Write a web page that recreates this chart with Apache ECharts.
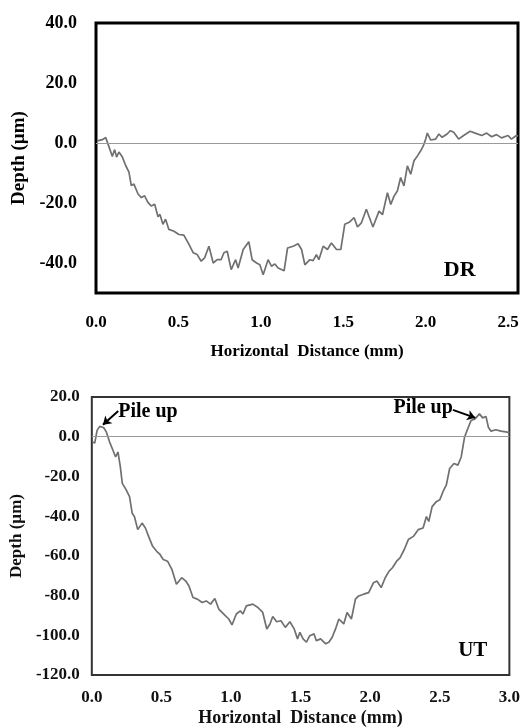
<!DOCTYPE html>
<html>
<head>
<meta charset="utf-8">
<script src="https://cdn.jsdelivr.net/npm/echarts@6/dist/echarts.min.js"></script>
<style>
html,body{margin:0;padding:0;background:#fff;}
#c{width:523px;height:728px;}
</style>
</head>
<body>
<div id="c"></div>
<script>
// ---- DR profile (top) ----
var drX = [0.008,0.038,0.059,0.079,0.099,0.113,0.125,0.139,0.16,0.18,0.20,0.214,0.23,0.255,0.275,0.295,0.315,0.335,0.356,0.376,0.388,0.406,0.422,0.442,0.473,0.503,0.533,0.564,0.59,0.614,0.638,0.659,0.685,0.711,0.735,0.759,0.776,0.796,0.82,0.847,0.862,0.893,0.927,0.947,0.974,0.994,1.014,1.044,1.065,1.085,1.105,1.141,1.162,1.196,1.226,1.247,1.267,1.297,1.317,1.337,1.352,1.378,1.404,1.428,1.459,1.485,1.509,1.539,1.566,1.586,1.61,1.64,1.68,1.717,1.738,1.768,1.788,1.808,1.828,1.848,1.868,1.889,1.909,1.929,1.95,1.97,1.986,2.0,2.01,2.03,2.06,2.08,2.10,2.13,2.15,2.17,2.20,2.23,2.27,2.30,2.34,2.37,2.40,2.43,2.46,2.50,2.52,2.55,2.56];
var drY = [0.7,1.1,1.8,-1.3,-4.5,-2.2,-4.7,-3,-4.7,-7.5,-9.7,-14.2,-13.7,-17,-18.2,-17.6,-19.8,-21,-20.4,-24.6,-23.8,-27.1,-25.4,-28.8,-29.4,-30.5,-30.7,-33.8,-36.6,-37.2,-39.4,-38.3,-34.4,-40,-38.9,-38.9,-36.6,-36.1,-42.2,-38.9,-41.7,-35.5,-32.9,-38.9,-40,-40.6,-43.9,-38.9,-41.1,-40.3,-41.7,-42.6,-35,-34.4,-33.6,-35.5,-40.6,-38.9,-39.2,-37.2,-38.9,-34.4,-35.5,-33.3,-35.5,-35.5,-27.1,-26.3,-24.9,-28,-26.6,-22.1,-28,-22.7,-23.9,-16.6,-20.5,-17.7,-16,-11.5,-14.3,-7.6,-10.4,-5.9,-4.3,-2.6,-0.9,1.3,3.3,1,1.3,3,1.9,3,4.1,3.6,1.3,2.5,3.9,3.3,2.5,3.3,2.1,2.8,1.7,2.5,1.3,2.5,2.3];
// ---- UT profile (bottom) ----
var utX = [0.005,0.021,0.038,0.057,0.086,0.105,0.128,0.152,0.171,0.188,0.205,0.219,0.247,0.271,0.29,0.306,0.33,0.361,0.385,0.408,0.437,0.466,0.49,0.513,0.544,0.575,0.608,0.646,0.675,0.698,0.727,0.758,0.793,0.822,0.853,0.884,0.912,0.948,0.984,1.007,1.038,1.067,1.086,1.11,1.157,1.193,1.228,1.257,1.28,1.30,1.328,1.359,1.39,1.423,1.454,1.478,1.495,1.518,1.542,1.566,1.597,1.613,1.644,1.68,1.703,1.727,1.751,1.775,1.81,1.834,1.865,1.894,1.917,1.953,1.989,2.024,2.048,2.079,2.108,2.136,2.16,2.19,2.214,2.245,2.274,2.31,2.345,2.38,2.404,2.421,2.445,2.475,2.50,2.523,2.547,2.571,2.602,2.63,2.654,2.678,2.701,2.725,2.753,2.785,2.808,2.832,2.849,2.868,2.903,2.939,2.986,3.0];
var utY = [-2.7,-3.2,3.2,5.2,4.5,2.3,-2.7,-6.8,-10.2,-7.7,-15.2,-23.5,-26.8,-30.2,-38.5,-40.2,-46.8,-43.5,-46,-50.2,-55.2,-57.7,-59.3,-61.8,-62.7,-66.8,-74.3,-71,-72.7,-75.2,-81,-81.8,-83.5,-82.7,-84.3,-81.5,-86.8,-89.3,-91.8,-94.8,-89.3,-87.7,-89.3,-85.2,-84.3,-86,-88.5,-96.8,-94.3,-90.5,-93.2,-92.7,-96,-93.2,-96.8,-101.8,-98.5,-101.8,-103.5,-100.2,-99.3,-102.7,-101.8,-104.3,-103.5,-101,-96.8,-91.8,-94.3,-88.5,-91.8,-81.8,-80.2,-79.3,-78.5,-73.5,-72.7,-76,-71,-67.7,-66,-62.7,-61,-56.8,-51.8,-50.2,-46.8,-46,-40.2,-42.7,-35.2,-32.7,-31.8,-27.7,-24.3,-16,-13.5,-14.3,-10.2,-0.2,4,8.2,9,11.5,9.5,10.2,4.8,2.8,3.5,2.8,2.3,1.8];

var xTitle = 'Horizontal  Distance (mm)';
var yTitle = 'Depth (µm)';
var panelLabels = ['DR', 'UT'];
var annotText = 'Pile up';

function zip(a, b) { return a.map(function (v, i) { return [v, b[i]]; }); }

var serif = '"Liberation Serif", "DejaVu Serif", serif';
var chart = echarts.init(document.getElementById('c'), null, { renderer: 'canvas' });

function fmtEvery(step) {
  return function (v) {
    var r = Math.round(v / step);
    return Math.abs(v - r * step) < 1e-6 ? v.toFixed(1) : '';
  };
}

var lineColor = '#707070';
var zeroLine = { silent: true, symbol: 'none', label: { show: false }, lineStyle: { color: '#9a9a9a', width: 1, type: 'solid' }, data: [{ yAxis: 0 }] };

chart.setOption({
  backgroundColor: '#fff',
  animation: false,
  grid: [
    { left: 96, top: 23, width: 422, height: 270, show: true, borderColor: '#000', borderWidth: 3, backgroundColor: 'transparent' },
    { left: 91, top: 397, width: 421, height: 279, show: true, borderColor: '#333', borderWidth: 2, backgroundColor: 'transparent' }
  ],
  xAxis: [
    {
      gridIndex: 0, type: 'value', min: 0, max: 2.56, interval: 0.5,
      axisLine: { show: false }, axisTick: { show: false }, splitLine: { show: false },
      axisLabel: { margin: 21, formatter: fmtEvery(0.5), color: '#000', fontFamily: serif, fontWeight: 'bold', fontSize: 17 },
      name: xTitle, nameLocation: 'middle', nameGap: 50,
      nameTextStyle: { color: '#000', fontFamily: serif, fontWeight: 'bold', fontSize: 17 }
    },
    {
      gridIndex: 1, type: 'value', min: 0, max: 3, interval: 0.5,
      axisLine: { show: false }, axisTick: { show: false }, splitLine: { show: false },
      axisLabel: { margin: 14, formatter: fmtEvery(0.5), color: '#111', fontFamily: serif, fontWeight: 'bold', fontSize: 17 },
      name: xTitle, nameLocation: 'middle', nameGap: 34,
      nameTextStyle: { color: '#111', fontFamily: serif, fontWeight: 'bold', fontSize: 18 }
    }
  ],
  yAxis: [
    {
      gridIndex: 0, type: 'value', min: -50, max: 40, interval: 10,
      axisLine: { show: false }, axisTick: { show: false }, splitLine: { show: false },
      axisLabel: { margin: 19, formatter: fmtEvery(20), color: '#000', fontFamily: serif, fontWeight: 'bold', fontSize: 18 },
      name: yTitle, nameLocation: 'middle', nameGap: 58, nameRotate: 90,
      nameTextStyle: { color: '#000', fontFamily: serif, fontWeight: 'bold', fontSize: 19 }
    },
    {
      gridIndex: 1, type: 'value', min: -120, max: 20, interval: 20,
      axisLine: { show: false }, axisTick: { show: false }, splitLine: { show: false },
      axisLabel: { margin: 12, formatter: function (v) { return v.toFixed(1); }, color: '#111', fontFamily: serif, fontWeight: 'bold', fontSize: 17 },
      name: yTitle, nameLocation: 'middle', nameGap: 63, nameRotate: 90,
      nameTextStyle: { color: '#111', fontFamily: serif, fontWeight: 'bold', fontSize: 17 }
    }
  ],
  series: [
    {
      type: 'line', xAxisIndex: 0, yAxisIndex: 0, data: zip(drX, drY),
      showSymbol: false, symbol: 'none', lineStyle: { color: lineColor, width: 1.7 }, z: 3,
      markLine: zeroLine,
      markPoint: {
        silent: true, symbol: 'circle', symbolSize: 0,
        label: { show: true, color: '#000', fontFamily: serif, fontWeight: 'bold', fontSize: 22, formatter: panelLabels[0] },
        data: [{ coord: [2.206, -42.4] }]
      }
    },
    {
      type: 'line', xAxisIndex: 1, yAxisIndex: 1, data: zip(utX, utY),
      showSymbol: false, symbol: 'none', lineStyle: { color: lineColor, width: 1.7 }, z: 3,
      markLine: zeroLine,
      markPoint: {
        silent: true, symbol: 'circle', symbolSize: 0,
        data: [
          { coord: [0.19, 12.5], label: { show: true, position: 'right', distance: 0, formatter: annotText, color: '#000', fontFamily: serif, fontWeight: 'bold', fontSize: 20 } },
          { coord: [2.594, 14.5], label: { show: true, position: 'left', distance: 0, formatter: annotText, color: '#000', fontFamily: serif, fontWeight: 'bold', fontSize: 20 } },
          { coord: [2.737, -107.5], label: { show: true, position: 'inside', formatter: panelLabels[1], color: '#000', fontFamily: serif, fontWeight: 'bold', fontSize: 21 } }
        ]
      }
    },
    {
      type: 'line', xAxisIndex: 1, yAxisIndex: 1, data: [], z: 5,
      markLine: {
        silent: true, symbol: ['none', 'arrow'], symbolSize: 8, label: { show: false },
        lineStyle: { color: '#000', width: 2, type: 'solid' },
        data: [
          [{ coord: [0.19, 13] }, { coord: [0.08, 6] }],
          [{ coord: [2.594, 13.5] }, { coord: [2.755, 9.5] }]
        ]
      }
    }
  ]
});
</script>
</body>
</html>
